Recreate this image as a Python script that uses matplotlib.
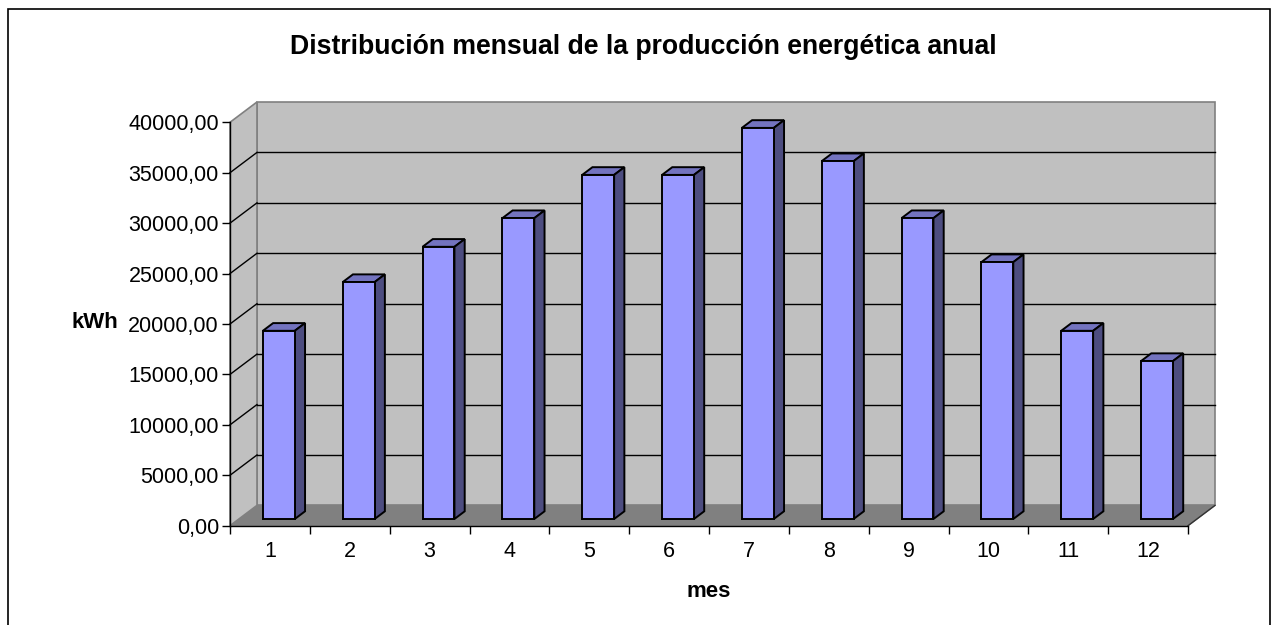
import matplotlib
matplotlib.use("Agg")
import matplotlib.pyplot as plt
from matplotlib.patches import Polygon, Rectangle
from matplotlib.ticker import FixedLocator, FuncFormatter

plt.rcParams['font.family'] = ['Liberation Sans', 'DejaVu Sans']

# datos (kWh por mes)
meses = [1, 2, 3, 4, 5, 6, 7, 8, 9, 10, 11, 12]
produccion = [18660, 23490, 26990, 29830, 34120, 34120,
              38780, 35480, 29830, 25470, 18660, 15660]
y_ticks = [0, 5000, 10000, 15000, 20000, 25000, 30000, 35000, 40000]
titulo = "Distribución mensual de la producción energética anual"

# falso 3D: desplazamiento de profundidad en unidades de datos
DX = 0.338
DY = 2013
F0, F1 = 0.33, 0.71   # profundidad de la cara frontal / trasera de las barras
ANCHO = 0.4
YMAX = y_ticks[-1]
n = len(meses)

fig = plt.figure(figsize=(12.74, 6.25), dpi=100)
fig.patches.append(Rectangle((8 / 1274, -0.02), 1262 / 1274, 0.9856 + 0.02,
                             transform=fig.transFigure, fill=False,
                             edgecolor='black', linewidth=1.2))

ax = fig.add_axes([230 / 1274, 99.3 / 625, 958 / 1274, 403.4 / 625])
ax.set_xlim(0, n)
ax.set_ylim(0, YMAX)
ax.patch.set_visible(False)

# paredes y suelo
suelo = Polygon([(0, 0), (n, 0), (n + DX, DY), (DX, DY)], closed=True,
                facecolor='#808080', edgecolor='#808080', lw=1, zorder=1, clip_on=False)
fondo = Polygon([(DX, DY), (n + DX, DY), (n + DX, YMAX + DY), (DX, YMAX + DY)], closed=True,
                facecolor='#c0c0c0', edgecolor='#808080', lw=1.2, zorder=1, clip_on=False)
lateral = Polygon([(0, 0), (DX, DY), (DX, YMAX + DY), (0, YMAX)], closed=True,
                  facecolor='#c0c0c0', edgecolor='#808080', lw=1.2, zorder=1, clip_on=False)
for p in (suelo, fondo, lateral):
    ax.add_patch(p)

for v in y_ticks[1:-1]:
    ax.plot([DX, n + DX], [v + DY, v + DY], color='black', lw=1, zorder=2, clip_on=False)
    ax.plot([0, DX], [v, v + DY], color='black', lw=1, zorder=2, clip_on=False)
ax.plot([n, n + DX], [0, DY], color='#333333', lw=1, zorder=2, clip_on=False)

# barras
x0 = [i + (1 - ANCHO) / 2 + F0 * DX for i in range(n)]
ax.bar(x0, produccion, width=ANCHO, bottom=F0 * DY, align='edge',
       color='#9999ff', edgecolor='black', linewidth=1.4, zorder=4, clip_on=False)
ddx = (F1 - F0) * DX
ddy = (F1 - F0) * DY
for xi, v in zip(x0, produccion):
    top = v + F0 * DY
    ax.add_patch(Polygon([(xi, top), (xi + ANCHO, top), (xi + ANCHO + ddx, top + ddy), (xi + ddx, top + ddy)],
                         closed=True, facecolor='#7373bf', edgecolor='black', lw=1.4, zorder=3, clip_on=False))
    ax.add_patch(Polygon([(xi + ANCHO, F0 * DY), (xi + ANCHO + ddx, F0 * DY + ddy),
                          (xi + ANCHO + ddx, top + ddy), (xi + ANCHO, top)],
                         closed=True, facecolor='#4d4d80', edgecolor='black', lw=1.4, zorder=3, clip_on=False))

# ejes
for s in ('top', 'right'):
    ax.spines[s].set_visible(False)
for s in ('left', 'bottom'):
    ax.spines[s].set_color('black')
    ax.spines[s].set_linewidth(1)
    ax.spines[s].set_zorder(2.5)

ax.yaxis.set_major_locator(FixedLocator(y_ticks))
ax.yaxis.set_major_formatter(FuncFormatter(lambda v, p: f"{v:.2f}".replace('.', ',')))
ax.tick_params(axis='y', length=6, width=1, pad=2, labelsize=15.5)

ax.set_xticks(range(n + 1))
ax.set_xticklabels([])
ax.set_xticks([i + 0.5 for i in range(n)], minor=True)
ax.set_xticklabels([str(m) for m in meses], minor=True)
ax.tick_params(axis='x', which='major', length=6, width=1)
ax.tick_params(axis='x', which='minor', length=0, pad=11, labelsize=15.5)

ax.set_xlabel("mes", fontsize=16, fontweight='bold', labelpad=14)
fig.text(95 / 1274, 1 - 323 / 625, "kWh", fontsize=16, fontweight='bold', ha='center', va='center')
fig.text(643 / 1274, 1 - 54.3 / 625, titulo, fontsize=19.2, fontweight='bold', ha='center', va='baseline')

fig.savefig("out.png", dpi=100)
